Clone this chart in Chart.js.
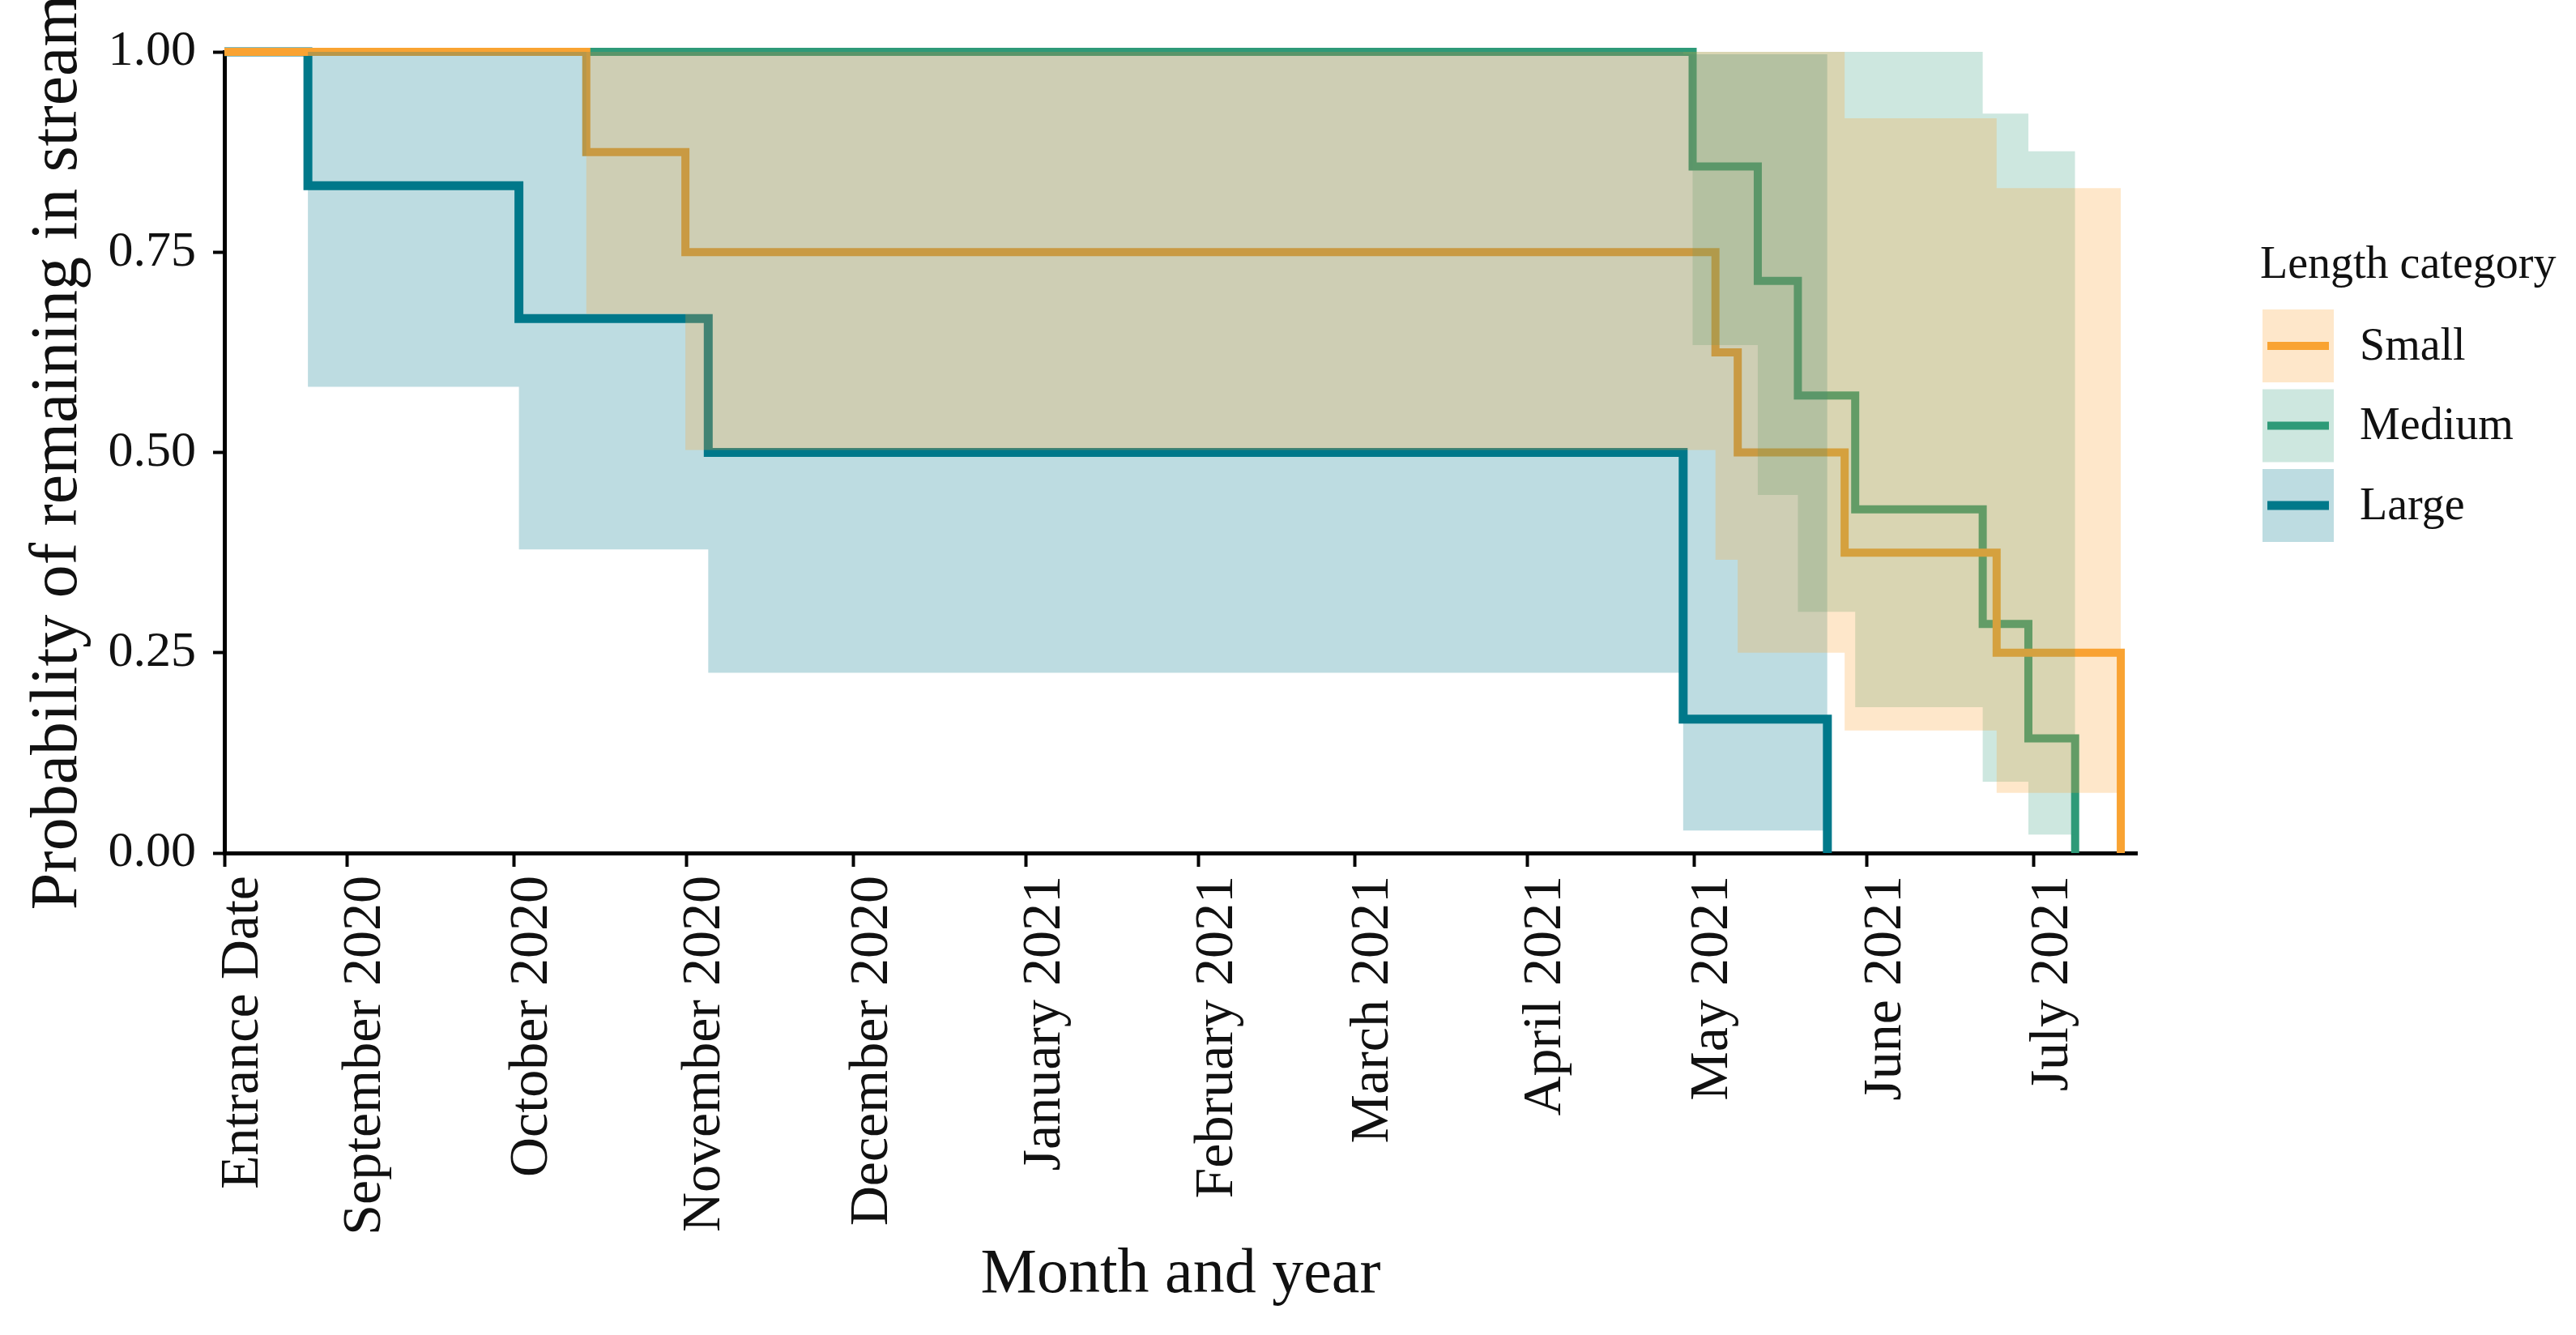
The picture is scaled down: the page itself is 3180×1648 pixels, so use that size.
<!DOCTYPE html>
<html>
<head>
<meta charset="utf-8">
<script src="https://cdn.jsdelivr.net/npm/chart.js@4.4.1/dist/chart.umd.min.js"></script>
<style>
  html, body { margin: 0; padding: 0; background: #ffffff; }
  #wrap { width: 3180px; height: 1648px; position: relative; }
</style>
</head>
<body>
<div id="wrap"><canvas id="c"></canvas></div>
<script>
// ---- Axis ticks (days since entrance date) ----
const xTickDays = [0, 22, 52, 83, 113, 144, 175, 203, 234, 264, 295, 325];
const xTickLabels = ['Entrance Date', 'September 2020', 'October 2020', 'November 2020',
  'December 2020', 'January 2021', 'February 2021', 'March 2021', 'April 2021',
  'May 2021', 'June 2021', 'July 2021'];
const xMaxDay = 343.5;
const yTicks = [0, 0.25, 0.5, 0.75, 1];

// ---- Small ----
const smallDays  = [0, 65, 82.8, 267.8, 271.8, 291, 318.3, 340.6];
const smallSurv  = [1, 0.875, 0.75, 0.625, 0.5, 0.375, 0.25, 0];
const smallLower = [1, 0.673, 0.503, 0.366, 0.25, 0.153, 0.075, 0.075];
const smallUpper = [1, 1, 1, 1, 1, 0.917, 0.83, 0.83];

// ---- Medium ----
const mediumDays  = [0, 263.7, 275.4, 282.6, 292.9, 315.8, 324, 332.4];
const mediumSurv  = [1, 0.857, 0.714, 0.571, 0.429, 0.286, 0.143, 0];
const mediumLower = [1, 0.634, 0.447, 0.301, 0.182, 0.089, 0.023, 0.023];
const mediumUpper = [1, 1, 1, 1, 1, 0.923, 0.876, 0.876];

// ---- Large ----
const largeDays  = [0, 15, 52.9, 86.9, 262, 287.9];
const largeSurv  = [1, 0.833, 0.667, 0.5, 0.167, 0];
const largeLower = [1, 0.582, 0.379, 0.225, 0.028, 0.028];
const largeUpper = [1, 1, 1, 1, 0.997, 0.997];

const categories = ['Small', 'Medium', 'Large'];
const lineColors = ['#F9A332', '#2E9A78', '#00798A'];
const fillColors = ['rgba(252,163,50,0.26)', 'rgba(46,154,120,0.24)', 'rgba(0,121,138,0.26)'];
const lineWidths = [10, 10, 11];

const pts = (xs, ys) => xs.map((x, i) => ({ x: x, y: ys[i] }));

const FONT = "'Liberation Serif', 'Times New Roman', serif";

const series = [
  { days: smallDays, surv: smallSurv, lo: smallLower, hi: smallUpper },
  { days: mediumDays, surv: mediumSurv, lo: mediumLower, hi: mediumUpper },
  { days: largeDays, surv: largeSurv, lo: largeLower, hi: largeUpper }
];

const datasets = [];
// Step lines (lower "order" is drawn on top; bands are drawn above the lines)
series.forEach((s, k) => {
  datasets.push({
    label: categories[k],
    data: pts(s.days, s.surv),
    borderColor: lineColors[k],
    borderWidth: lineWidths[k],
    stepped: 'before',
    pointRadius: 0,
    fill: false,
    clip: false,
    order: 20 + k
  });
});
// Confidence bands (semi-transparent, on top of the lines)
series.forEach((s, k) => {
  const lowerIndex = datasets.length;
  datasets.push({
    label: categories[k] + ' lower',
    data: pts(s.days, s.lo),
    borderWidth: 0,
    borderColor: 'rgba(0,0,0,0)',
    stepped: 'before',
    pointRadius: 0,
    fill: false,
    order: 10 + k
  });
  datasets.push({
    label: categories[k] + ' band',
    data: pts(s.days, s.hi),
    borderWidth: 0,
    borderColor: 'rgba(0,0,0,0)',
    backgroundColor: fillColors[k],
    stepped: 'before',
    pointRadius: 0,
    fill: lowerIndex,
    order: 1 + k
  });
});

// Custom legend (ggplot-like keys: filled square with line)
const legendPlugin = {
  id: 'ggLegend',
  afterDraw(chart) {
    const ctx = chart.ctx;
    ctx.save();
    ctx.fillStyle = '#111';
    ctx.font = '56px ' + FONT;
    ctx.textAlign = 'left';
    ctx.textBaseline = 'alphabetic';
    ctx.fillText('Length category', 2790, 343);
    const boxX = 2793, boxW = 88, boxH = 90, y0 = 382, pitch = 98.5;
    categories.forEach((name, k) => {
      const y = y0 + k * pitch;
      ctx.fillStyle = fillColors[k];
      ctx.fillRect(boxX, y, boxW, boxH);
      ctx.strokeStyle = lineColors[k];
      ctx.lineWidth = lineWidths[k];
      ctx.beginPath();
      ctx.moveTo(boxX + 6, y + boxH / 2);
      ctx.lineTo(boxX + boxW - 6, y + boxH / 2);
      ctx.stroke();
      ctx.fillStyle = '#111';
      ctx.textBaseline = 'middle';
      ctx.fillText(name, 2913, y + boxH / 2 + 2);
    });
    ctx.restore();
  }
};

new Chart(document.getElementById('c'), {
  type: 'line',
  data: { datasets: datasets },
  plugins: [legendPlugin],
  options: {
    responsive: true,
    maintainAspectRatio: false,
    devicePixelRatio: 1,
    animation: false,
    events: [],
    layout: { padding: { left: 0, top: 64, right: 542, bottom: 0 } },
    plugins: {
      legend: { display: false },
      tooltip: { enabled: false },
      filler: { propagate: false }
    },
    scales: {
      x: {
        type: 'linear',
        min: 0,
        max: xMaxDay,
        afterBuildTicks: (scale) => { scale.ticks = xTickDays.map(v => ({ value: v })); },
        afterFit: (scale) => { scale.height = 595; },
        ticks: {
          autoSkip: false,
          minRotation: 90,
          maxRotation: 90,
          padding: 11,
          labelOffset: 23,
          color: '#111',
          font: { family: FONT, size: 68 },
          callback: (value) => {
            const i = xTickDays.indexOf(value);
            return i >= 0 ? xTickLabels[i] : '';
          }
        },
        grid: {
          display: true,
          drawOnChartArea: false,
          drawTicks: true,
          tickLength: 17,
          tickWidth: 4,
          tickColor: '#000'
        },
        border: { display: true, color: '#000', width: 5 },
        title: {
          display: true,
          text: 'Month and year',
          color: '#111',
          font: { family: FONT, size: 78 },
          padding: { top: 0, bottom: 27 }
        }
      },
      y: {
        type: 'linear',
        min: 0,
        max: 1,
        afterBuildTicks: (scale) => { scale.ticks = yTicks.map(v => ({ value: v })); },
        afterFit: (scale) => { scale.width = 277; },
        ticks: {
          padding: 21,
          color: '#111',
          font: { family: FONT, size: 62 },
          callback: (v) => Number(v).toFixed(2)
        },
        grid: {
          display: true,
          drawOnChartArea: false,
          drawTicks: true,
          tickLength: 14,
          tickWidth: 4,
          tickColor: '#000'
        },
        border: { display: true, color: '#000', width: 5 },
        title: {
          display: true,
          text: 'Probability of remaining in stream',
          color: '#111',
          font: { family: FONT, size: 82 },
          padding: { top: 23, bottom: 0 }
        }
      }
    }
  }
});
</script>
</body>
</html>
